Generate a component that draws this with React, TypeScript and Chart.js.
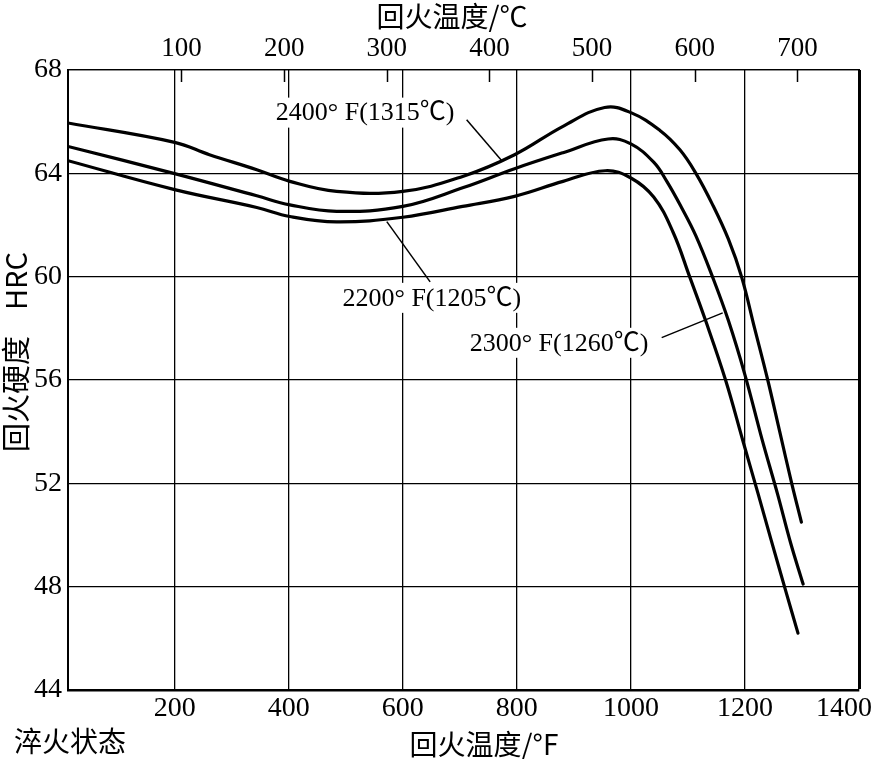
import React, { useEffect, useRef } from "react";
import { Chart, registerables } from "chart.js";

Chart.register(...registerables);

// Temper temperature (°F) and hardness (HRC) for each hardening temperature
const temp2400F = [13, 200, 261, 344, 402, 484, 600, 705, 796, 881, 954, 1000, 1051, 1086, 1114, 1143, 1171, 1194, 1217, 1240, 1261, 1282, 1299];
const hrc2400F = [65.95, 65.2, 64.72, 64.14, 63.69, 63.3, 63.3, 63.88, 64.72, 65.82, 66.55, 66.35, 65.66, 64.91, 64.0, 62.8, 61.45, 60.0, 58.0, 56.0, 54.0, 52.0, 50.5];

const temp2300F = [13, 200, 344, 402, 484, 600, 705, 796, 881, 960, 1000, 1040, 1063, 1089, 1114, 1143, 1171, 1200, 1230, 1257, 1280, 1302];
const hrc2300F = [65.04, 63.99, 63.13, 62.78, 62.53, 62.72, 63.44, 64.18, 64.8, 65.33, 65.14, 64.43, 63.69, 62.67, 61.58, 60.0, 58.3, 56.2, 53.7, 51.6, 49.7, 48.1];

const temp2200F = [13, 200, 344, 402, 484, 600, 705, 796, 881, 955, 1000, 1040, 1074, 1103, 1131, 1166, 1197, 1223, 1246, 1272, 1293];
const hrc2200F = [64.49, 63.37, 62.68, 62.33, 62.12, 62.3, 62.72, 63.11, 63.69, 64.1, 63.82, 63.08, 61.72, 60.0, 58.3, 56.0, 53.6, 51.6, 49.8, 47.8, 46.2];

const seriesNames = ["2400° F(1315℃)", "2300° F(1260℃)", "2200° F(1205℃)"];

// Axes
const xTicksF = [200, 400, 600, 800, 1000, 1200, 1400];
const xTicksC = [100, 200, 300, 400, 500, 600, 700];
const yTicks = [44, 48, 52, 56, 60, 64, 68];
const X_MIN_F = 13;
const X_MAX_F = 1400;
const Y_MIN = 44;
const Y_MAX = 68;

// Curve label annotations: text centre (°F, HRC), leader line start -> end (°F, HRC)
const labelTextF = [534, 874, 651];
const labelTextH = [66.35, 57.44, 59.18];
const leaderFromF = [712, 1054, 572];
const leaderFromH = [66.07, 57.64, 62.13];
const leaderToF = [774, 1161, 648];
const leaderToH = [64.48, 58.6, 59.8];

const toC = (f: number) => ((f - 32) * 5) / 9;

const SERIF = '"Liberation Serif", "Noto Sans CJK SC", serif';
const CJK = '"Noto Sans CJK SC", "Liberation Serif", serif';

export default function App() {
  const canvasRef = useRef<HTMLCanvasElement | null>(null);

  useEffect(() => {
    document.body.style.margin = "0";
    const canvas = canvasRef.current;
    if (!canvas) return;

    const mk = (xs: number[], ys: number[]) => xs.map((x, i) => ({ x, y: ys[i] }));
    const plain = (v: any) => String(v);

    const annotate = {
      id: "annotate",
      afterDatasetsDraw(chart: any) {
        const ctx = chart.ctx as CanvasRenderingContext2D;
        const xs = chart.scales.x;
        const ys = chart.scales.y;
        const xc = chart.scales.x2;
        const area = chart.chartArea;
        ctx.save();
        // inward ticks for °C axis
        ctx.strokeStyle = "#000";
        ctx.lineWidth = 1.5;
        xTicksC.forEach((c) => {
          const px = Math.round(xc.getPixelForValue(c)) + 0.5;
          ctx.beginPath();
          ctx.moveTo(px, area.top);
          ctx.lineTo(px, area.top + 12);
          ctx.stroke();
        });
        // last bottom tick label, pulled inside the canvas
        ctx.fillStyle = "#000";
        ctx.font = `28px ${SERIF}`;
        ctx.textAlign = "right";
        ctx.textBaseline = "middle";
        const lastF = xTicksF[xTicksF.length - 1];
        ctx.fillText(String(lastF), xs.getPixelForValue(lastF) + 13, area.bottom + 19);
        // curve labels
        ctx.font = `26px ${SERIF}`;
        ctx.textAlign = "center";
        ctx.textBaseline = "middle";
        seriesNames.forEach((name, i) => {
          const cx = xs.getPixelForValue(labelTextF[i]);
          const cy = ys.getPixelForValue(labelTextH[i]);
          const w = ctx.measureText(name).width;
          ctx.fillStyle = "#fff";
          ctx.fillRect(cx - w / 2 - 3, cy - 15, w + 6, 30);
          ctx.fillStyle = "#000";
          ctx.fillText(name, cx, cy + 1);
          ctx.lineWidth = 1.5;
          ctx.beginPath();
          ctx.moveTo(xs.getPixelForValue(leaderFromF[i]), ys.getPixelForValue(leaderFromH[i]));
          ctx.lineTo(xs.getPixelForValue(leaderToF[i]), ys.getPixelForValue(leaderToH[i]));
          ctx.stroke();
        });
        // titles
        ctx.fillStyle = "#000";
        ctx.font = `28px ${CJK}`;
        ctx.textAlign = "center";
        ctx.textBaseline = "middle";
        ctx.fillText("回火温度/℃", 452, 16);
        ctx.fillText("回火温度/°F", 484, 744);
        ctx.textAlign = "left";
        ctx.fillText("淬火状态", 14, 741);
        ctx.translate(16, 352);
        ctx.rotate(-Math.PI / 2);
        ctx.textAlign = "center";
        ctx.font = `29px ${CJK}`;
        ctx.fillText("回火硬度    HRC", 0, 0);
        ctx.restore();
      },
    };

    const chart = new Chart(canvas, {
      type: "line",
      data: {
        datasets: [
          { label: seriesNames[0], data: mk(temp2400F, hrc2400F) },
          { label: seriesNames[1], data: mk(temp2300F, hrc2300F) },
          { label: seriesNames[2], data: mk(temp2200F, hrc2200F) },
        ].map((d) => ({
          ...d,
          borderColor: "#000",
          backgroundColor: "#000",
          borderWidth: 3.2,
          pointRadius: 0,
          fill: false,
          tension: 0.4,
          borderCapStyle: "round" as const,
          borderJoinStyle: "round" as const,
        })),
      },
      options: {
        responsive: false,
        animation: false,
        layout: { padding: { left: 0, right: 17, top: 0, bottom: 0 } },
        plugins: {
          legend: { display: false },
          tooltip: { enabled: false },
        },
        scales: {
          x: {
            type: "linear",
            position: "bottom",
            min: X_MIN_F,
            max: X_MAX_F,
            afterBuildTicks: (s: any) => {
              s.ticks = xTicksF.map((v) => ({ value: v }));
            },
            afterFit: (s: any) => {
              s.height = 69;
              s.paddingLeft = 0;
              s.paddingRight = 0;
            },
            grid: {
              color: "#000",
              lineWidth: (c: any) => (c.tick && c.tick.value === X_MAX_F ? 3 : 1.3),
              drawTicks: false,
            },
            border: { display: true, color: "#000", width: 2.5 },
            ticks: {
              color: "#000",
              font: { size: 28, family: SERIF },
              padding: 2,
              maxRotation: 0,
              autoSkip: false,
              callback: (v: any) => (v === X_MAX_F ? "" : String(v)),
            },
          },
          x2: {
            type: "linear",
            position: "top",
            min: toC(X_MIN_F),
            max: toC(X_MAX_F),
            afterBuildTicks: (s: any) => {
              s.ticks = xTicksC.map((v) => ({ value: v }));
            },
            afterFit: (s: any) => {
              s.height = 70;
              s.paddingLeft = 0;
              s.paddingRight = 0;
            },
            grid: { display: false, drawTicks: false },
            border: { display: true, color: "#000", width: 1.3 },
            ticks: {
              color: "#000",
              font: { size: 27, family: SERIF },
              padding: 5,
              maxRotation: 0,
              autoSkip: false,
              callback: plain,
            },
          },
          y: {
            type: "linear",
            min: Y_MIN,
            max: Y_MAX,
            afterBuildTicks: (s: any) => {
              s.ticks = yTicks.map((v) => ({ value: v }));
            },
            afterFit: (s: any) => {
              s.width = 68;
              s.paddingTop = 0;
              s.paddingBottom = 0;
            },
            grid: { color: "#000", lineWidth: 1.3, drawTicks: false },
            border: { display: true, color: "#000", width: 2 },
            ticks: {
              color: "#000",
              font: { size: 28, family: SERIF },
              padding: 6,
              autoSkip: false,
              callback: plain,
            },
          },
        },
      },
      plugins: [annotate],
    });

    return () => chart.destroy();
  }, []);

  return (
    <div style={{ width: 876, height: 759, background: "#fff" }}>
      <canvas ref={canvasRef} width={876} height={759} style={{ display: "block" }} />
    </div>
  );
}
